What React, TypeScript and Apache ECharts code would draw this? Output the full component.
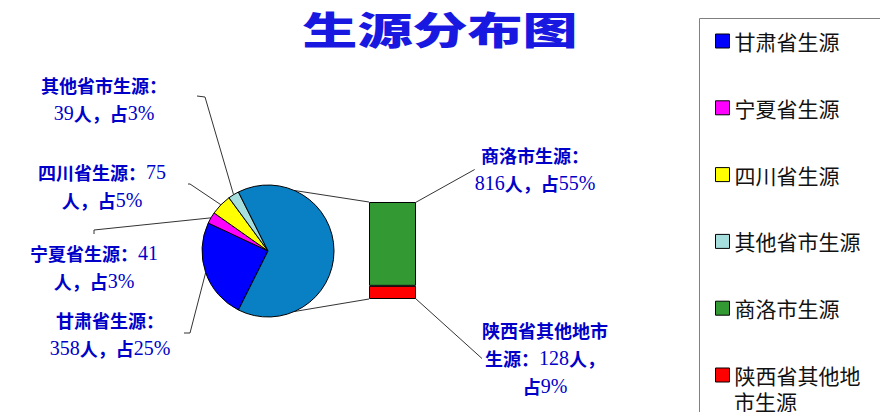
import React, { useEffect, useRef } from 'react';
import * as echarts from 'echarts';

// ---------- data ----------
const pieNames = ['甘肃省生源', '宁夏省生源', '四川省生源', '其他省市生源'];
const pieValues = [358, 41, 75, 39];
const piePercents = [25, 3, 5, 3];
const combinedName = '陕西省生源';
const barNames = ['商洛市生源', '陕西省其他地市生源'];
const barValues = [816, 128];
const barPercents = [55, 9];
const titleText = '生源分布图';

// ---------- style / layout ----------
const pieColors = ['#0000ff', '#ff00ff', '#ffff00', '#a6dede', '#0a80c4'];
const barColors = ['#339933', '#ff0000'];
const LABEL_COLOR = '#0000c8';
const CN = '"Noto Sans CJK SC", "Noto Sans", sans-serif';
const SERIF = '"Liberation Serif", "DejaVu Serif", serif';
const PIE_C = [268, 251];
const PIE_R = 66;
const BAR = { left: 369, top: 202, width: 47, height: 97 };
const CONNECT_DEG = 23.5;
const LEGEND_WRAP = 6;

type Mode = 'name' | 'value' | 'split';
const pieLabelLayout: { x: number; y: number; mode: Mode; line: number[][] }[] = [
  { x: 110, y: 306, mode: 'name', line: [[190, 333], [184, 333]] },
  { x: 94, y: 239, mode: 'value', line: [[94, 230], [94, 234]] },
  { x: 102, y: 158, mode: 'value', line: [[190, 184], [188, 184]] },
  { x: 104, y: 71, mode: 'name', line: [[205, 97], [197, 96]] },
];
const barLabelLayout: { x: number; y: number; mode: Mode; line: number[][] }[] = [
  { x: 535, y: 141, mode: 'name', line: [[462, 165]] },
  { x: 545, y: 316, mode: 'split', line: [[461, 355]] },
];

function rich(line: string) {
  return line
    .split(/([0-9%]+)/)
    .filter(Boolean)
    .map((p) => (/^[0-9%]+$/.test(p) ? `{n|${p}}` : `{c|${p}}`))
    .join('');
}

function labelText(name: string, v: number, p: number, mode: Mode) {
  let lines: string[];
  if (mode === 'name') lines = [name + '：', `${v}人，占${p}%`];
  else if (mode === 'value') lines = [name + '：' + v, `人，占${p}%`];
  else lines = [name.slice(0, 7), name.slice(7) + '：' + v + '人，', `占${p}%`];
  return lines.map(rich).join('\n');
}

const richStyles = {
  c: { fontFamily: CN, fontWeight: 'bold', fontSize: 18, color: LABEL_COLOR, lineHeight: 28, align: 'center' },
  n: { fontFamily: SERIF, fontSize: 20, color: LABEL_COLOR, lineHeight: 28, align: 'center' },
};

const legendCommon = {
  orient: 'vertical',
  left: 699,
  height: 600,
  itemWidth: 14,
  itemHeight: 14,
  itemGap: 40.8,
  icon: 'rect',
  selectedMode: false,
  itemStyle: { borderColor: '#000', borderWidth: 1 },
};
const legendText = { fontFamily: CN, fontSize: 21, color: '#111', lineHeight: 26 };

export default function App() {
  const ref = useRef<HTMLDivElement>(null);

  useEffect(() => {
    if (!ref.current) return;
    const chart = echarts.init(ref.current, undefined, { renderer: 'svg' });

    const combinedValue = barValues.reduce((a, b) => a + b, 0);
    const total = pieValues.reduce((a, b) => a + b, 0) + combinedValue;
    const combinedDeg = (combinedValue / total) * 360;
    const startAngle = 360 - combinedDeg / 2;

    const pieData: any[] = pieNames.map((n, i) => ({
      name: n,
      value: pieValues[i],
      itemStyle: { color: pieColors[i] },
    }));
    pieData.push({
      name: combinedName,
      value: combinedValue,
      itemStyle: { color: pieColors[4] },
      label: { show: false },
      labelLine: { show: false },
    });

    const rad = (CONNECT_DEG * Math.PI) / 180;
    const px = PIE_C[0] + PIE_R * Math.sin(rad);
    const pyTop = PIE_C[1] - PIE_R * Math.cos(rad);
    const pyBot = PIE_C[1] + PIE_R * Math.cos(rad);

    const barSeries = [1, 0].map((i) => ({
      name: barNames[i],
      type: 'bar',
      stack: 'sx',
      barWidth: '100%',
      data: [barValues[i]],
      itemStyle: { color: barColors[i], borderColor: '#000', borderWidth: 1 },
      label: {
        show: true,
        position: 'right',
        formatter: () => labelText(barNames[i], barValues[i], barPercents[i], barLabelLayout[i].mode),
        rich: richStyles,
      },
      labelLine: { show: true, lineStyle: { color: '#333', width: 1 } },
      labelLayout: (params: any) => {
        const L = barLabelLayout[i];
        const r = params.rect;
        const start = [r.x + r.width, r.y + r.height / 2];
        return {
          x: L.x,
          y: L.y,
          align: 'center',
          verticalAlign: 'top',
          labelLinePoints: [start, ...L.line],
        };
      },
      emphasis: { disabled: true },
    }));

    chart.setOption({
      animation: false,
      backgroundColor: '#ffffff',
      legend: [
        {
          ...legendCommon,
          top: 15,
          padding: [13, 0, 0, 16],
          data: [...pieNames, barNames[0]],
          textStyle: legendText,
        },
        {
          ...legendCommon,
          top: 362,
          padding: [0, 0, 0, 16],
          data: [barNames[1]],
          textStyle: legendText,
          formatter: (name: string) => name.slice(0, LEGEND_WRAP),
        },
      ],
      grid: { left: BAR.left, top: BAR.top, width: BAR.width, height: BAR.height },
      xAxis: { type: 'category', data: ['陕西'], show: false },
      yAxis: { type: 'value', min: 0, max: combinedValue, show: false },
      graphic: [
        {
          type: 'text',
          x: 440,
          y: 9,
          scaleX: 1.45,
          style: {
            text: titleText,
            font: `900 38px ${CN}`,
            fill: '#1818e0',
            textAlign: 'center',
            textVerticalAlign: 'top',
          },
        },
        {
          type: 'text',
          x: 734,
          y: 401,
          style: {
            text: barNames[1].slice(LEGEND_WRAP),
            font: `21px ${CN}`,
            fill: '#111',
            textAlign: 'left',
            textVerticalAlign: 'middle',
          },
        },
        {
          type: 'rect',
          shape: { x: 699.5, y: 18.5, width: 220, height: 440 },
          style: { fill: 'none', stroke: '#808080', lineWidth: 1 },
          z: 0,
        },
        { type: 'line', shape: { x1: px, y1: pyTop, x2: BAR.left, y2: BAR.top }, style: { stroke: '#333', lineWidth: 1 }, z: 0 },
        { type: 'line', shape: { x1: px, y1: pyBot, x2: BAR.left, y2: BAR.top + BAR.height }, style: { stroke: '#333', lineWidth: 1 }, z: 0 },
      ],
      series: [
        {
          name: '生源',
          type: 'pie',
          center: PIE_C,
          radius: PIE_R,
          startAngle,
          clockwise: true,
          avoidLabelOverlap: false,
          data: pieData,
          itemStyle: { borderColor: '#000', borderWidth: 1 },
          label: {
            show: true,
            position: 'outside',
            formatter: (p: any) => {
              const i = p.dataIndex;
              if (i >= pieNames.length) return '';
              return labelText(pieNames[i], pieValues[i], piePercents[i], pieLabelLayout[i].mode);
            },
            rich: richStyles,
          },
          labelLine: { show: true, length: 10, length2: 10, lineStyle: { color: '#333', width: 1 } },
          labelLayout: (params: any) => {
            const L = pieLabelLayout[params.dataIndex];
            if (!L) return {};
            const start = params.labelLinePoints ? params.labelLinePoints[0] : L.line[0];
            return {
              x: L.x,
              y: L.y,
              align: 'center',
              verticalAlign: 'top',
              labelLinePoints: [start, ...L.line],
            };
          },
          emphasis: { disabled: true },
        },
        ...barSeries,
      ],
    });

    return () => chart.dispose();
  }, []);

  return (
    <div
      ref={ref}
      style={{ position: 'absolute', left: 0, top: 0, width: 880, height: 412 }}
    />
  );
}
